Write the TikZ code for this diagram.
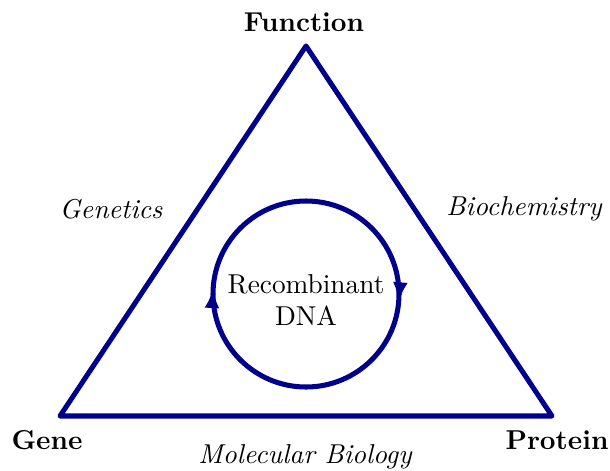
\documentclass[tikz,border=0pt]{standalone}
\usetikzlibrary{arrows.meta,decorations.markings}
\definecolor{navyline}{RGB}{0,0,139}
\begin{document}
\begin{tikzpicture}[x=0.377pt,y=-0.377pt,
  every node/.style={font=\fontsize{10.3}{11.8}\selectfont},
  edge/.style={draw=navyline,line width=1.9pt,line join=round},
  vlabel/.style={font=\fontsize{10.3}{12.6}\selectfont\bfseries,inner sep=0pt},
  flabel/.style={font=\fontsize{10.3}{12.6}\selectfont\itshape,inner sep=0pt},
  cyc/.style={edge,postaction={decorate},decoration={markings,
    mark=at position 0.014 with {\arrow[navyline]{Latex[length=7.5pt,width=5.6pt]}},
    mark=at position 0.51 with {\arrow[navyline]{Latex[length=7.5pt,width=5.6pt]}}}}]
\useasboundingbox (0,0) rectangle (610,470);
\coordinate (F) at (306,46);
\coordinate (G) at (60,416);
\coordinate (P) at (552,416);
\draw[edge] (F) -- (P) -- (G) -- cycle;
\coordinate (C) at (306,294);
\draw[cyc] (C) circle[radius=93];
\node[vlabel] (fn) at (304,22) {Function};
\node[vlabel] (gn) at (47,440) {Gene};
\node[vlabel] (pr) at (557,440) {Protein};
\node[flabel] (ge) at (111,209) {Genetics};
\node[flabel] (bc) at (524,209) {Biochemistry};
\node[flabel] (mb) at (305,457) {Molecular Biology};
\node[align=center,inner sep=0pt] (rd) at (306,300) {Recombinant\\DNA};
\end{tikzpicture}
\end{document}
